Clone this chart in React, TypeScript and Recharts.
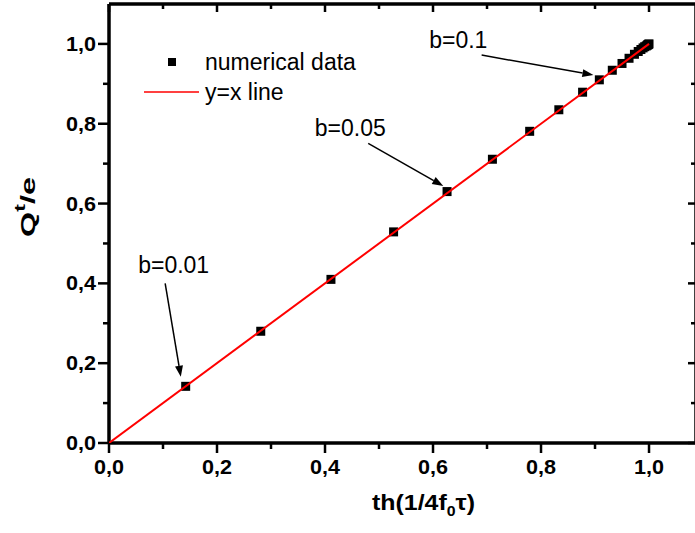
import React from "react";
import {
  ScatterChart,
  Scatter,
  XAxis,
  YAxis,
  ReferenceLine,
  ReferenceDot,
  Legend,
  Label,
} from "recharts";

const FONT = "Arial, 'Liberation Sans', sans-serif";

// axis ticks (major every 0.2 gets a label)
const xTicks = [0, 0.1, 0.2, 0.3, 0.4, 0.5, 0.6, 0.7, 0.8, 0.9, 1.0];
const yTicks = [0, 0.1, 0.2, 0.3, 0.4, 0.5, 0.6, 0.7, 0.8, 0.9, 1.0];

// numerical data: th(1/4 f0 tau) vs Q^t/e
const thValues = [
  0.142, 0.281, 0.411, 0.527, 0.626, 0.71, 0.779, 0.833, 0.877, 0.908, 0.932,
  0.95, 0.963, 0.973, 0.98, 0.985, 0.989, 0.992, 0.995, 0.997, 0.998, 0.999, 1.0,
];
const qValues = [
  0.142, 0.28, 0.41, 0.529, 0.63, 0.711, 0.781, 0.835, 0.879, 0.91, 0.934,
  0.951, 0.964, 0.974, 0.981, 0.986, 0.99, 0.993, 0.995, 0.997, 0.998, 0.999, 1.0,
];

// y = x reference line
const lineX = [0, 1];
const lineY = [0, 1];

// annotations (data units)
const annotLabels = ["b=0.01", "b=0.05", "b=0.1"];
const annotTextX = [0.054, 0.381, 0.593];
const annotTextY = [0.427, 0.768, 0.989];
const arrowFromX = [0.104, 0.48, 0.69];
const arrowFromY = [0.4, 0.751, 0.972];
const arrowToX = [0.133, 0.619, 0.897];
const arrowToY = [0.166, 0.644, 0.922];

const points = thValues.map((x, i) => ({ x, y: qValues[i] }));
const linePts = lineX.map((x, i) => ({ x, y: lineY[i] }));

const isMajor = (v: number) => Math.round(v * 10) % 2 === 0;
const fmt = (v: number) => v.toFixed(1).replace(".", ",");

const BottomTick = (props: any) => {
  const { x, y, payload } = props;
  const major = isMajor(payload.value);
  return (
    <g>
      <line x1={x} y1={y} x2={x} y2={y + (major ? 10 : 6)} stroke="#000" strokeWidth={2.5} />
      {major && (
        <text x={x} y={y + 31} textAnchor="middle" fontFamily={FONT} fontWeight="bold" fontSize={20} fill="#000"
          textLength={30} lengthAdjust="spacingAndGlyphs">
          {fmt(payload.value)}
        </text>
      )}
    </g>
  );
};

const LeftTick = (props: any) => {
  const { x, y, payload } = props;
  const major = isMajor(payload.value);
  return (
    <g>
      <line x1={x - (major ? 11 : 6)} y1={y} x2={x} y2={y} stroke="#000" strokeWidth={2.5} />
      {major && (
        <text x={x - 13} y={y + 7} textAnchor="end" fontFamily={FONT} fontWeight="bold" fontSize={20} fill="#000"
          textLength={30} lengthAdjust="spacingAndGlyphs">
          {fmt(payload.value)}
        </text>
      )}
    </g>
  );
};

const TopTick = (props: any) => {
  const { x, y, payload } = props;
  const major = isMajor(payload.value);
  return <line x1={x} y1={y} x2={x} y2={y + (major ? 8 : 5)} stroke="#000" strokeWidth={2.5} />;
};

const RightTick = (props: any) => {
  const { x, y, payload } = props;
  const major = isMajor(payload.value);
  return <line x1={x} y1={y} x2={x - (major ? 8 : 5)} y2={y} stroke="#000" strokeWidth={2.5} />;
};

const Square = (p: any) => <rect x={p.cx - 4.5} y={p.cy - 4.5} width={9} height={9} fill="#000" />;

const Arrow = (p: any) => {
  const { x1, y1, x2, y2 } = p;
  const ang = Math.atan2(y2 - y1, x2 - x1);
  const len = 11;
  const hw = 4;
  const bx = x2 - len * Math.cos(ang);
  const by = y2 - len * Math.sin(ang);
  const nx = -Math.sin(ang) * hw;
  const ny = Math.cos(ang) * hw;
  return (
    <g>
      <line x1={x1} y1={y1} x2={bx} y2={by} stroke="#000" strokeWidth={1.5} />
      <polygon points={`${x2},${y2} ${bx + nx},${by + ny} ${bx - nx},${by - ny}`} fill="#000" />
    </g>
  );
};

const LegendBox = (p: any) => {
  const entries = (p.payload || []).filter((e: any) => e.type !== "none");
  return (
    <svg width={400} height={120} style={{ display: "block" }}>
      {entries.map((e: any, i: number) =>
        i === 0 ? (
          <g key={i}>
            <rect x={168} y={58} width={8} height={8} fill="#000" />
            <text x={205} y={70} fontFamily={FONT} fontSize={23} fill="#000">
              {e.value}
            </text>
          </g>
        ) : (
          <g key={i}>
            <line x1={144} y1={92} x2={199} y2={92} stroke="#ff0000" strokeWidth={1.5} />
            <text x={205} y={100} fontFamily={FONT} fontSize={23} fill="#000">
              {e.value}
            </text>
          </g>
        )
      )}
    </svg>
  );
};

const XLabel = (p: any) => {
  const vb = p.viewBox;
  return (
    <text x={vb.x + vb.width / 2 + 21} y={vb.y + 67} textAnchor="middle" fontFamily={FONT} fontWeight="bold" fontSize={22} fill="#000"
      textLength={103} lengthAdjust="spacingAndGlyphs">
      th(1/4f
      <tspan dy={6} fontSize={14}>0</tspan>
      <tspan dy={-6}>τ)</tspan>
    </text>
  );
};

const YLabel = () => {
  const cx = 35;
  const cy = 207;
  return (
    <text x={cx} y={cy} transform={`rotate(-90, ${cx}, ${cy})`} textAnchor="middle" fontFamily={FONT} fontWeight="bold" fontSize={21} fill="#000"
      textLength={60} lengthAdjust="spacingAndGlyphs">
      Q<tspan dy={-10} fontSize={15}>t</tspan>
      <tspan dy={10}>/e</tspan>
    </text>
  );
};

export default function App() {
  return (
    <div style={{ position: "absolute", left: 0, top: 0, width: 695, height: 533, overflow: "hidden", background: "#fff" }}>
      <ScatterChart width={700} height={533} margin={{ top: 3, right: 3, bottom: 0, left: 0 }}>
        <XAxis
          xAxisId="b"
          type="number"
          dataKey="x"
          domain={[0, 1.087]}
          ticks={xTicks}
          interval={0}
          height={90}
          tickSize={0}
          tickMargin={0}
          tickLine={false}
          axisLine={{ stroke: "#000", strokeWidth: 3.5 }}
          tick={<BottomTick />}
          allowDataOverflow
        >
          <Label content={<XLabel />} />
        </XAxis>
        <XAxis
          xAxisId="t"
          orientation="top"
          type="number"
          dataKey="x"
          domain={[0, 1.087]}
          ticks={xTicks}
          interval={0}
          height={1}
          tickSize={0}
          tickMargin={0}
          tickLine={false}
          axisLine={{ stroke: "#000", strokeWidth: 3.5 }}
          tick={<TopTick />}
          allowDataOverflow
        />
        <YAxis
          yAxisId="l"
          type="number"
          dataKey="y"
          domain={[0, 1.1]}
          ticks={yTicks}
          interval={0}
          width={109}
          tickSize={0}
          tickMargin={0}
          tickLine={false}
          axisLine={{ stroke: "#000", strokeWidth: 3.5 }}
          tick={<LeftTick />}
          allowDataOverflow
        >
          <Label content={<YLabel />} />
        </YAxis>
        <YAxis
          yAxisId="r"
          orientation="right"
          type="number"
          dataKey="y"
          domain={[0, 1.1]}
          ticks={yTicks}
          interval={0}
          width={1}
          tickSize={0}
          tickMargin={0}
          tickLine={false}
          axisLine={{ stroke: "#000", strokeWidth: 3.5 }}
          tick={<RightTick />}
          allowDataOverflow
        />
        <Legend
          layout="vertical"
          align="center"
          verticalAlign="middle"
          wrapperStyle={{ left: 0, top: 0, width: 400, height: 120 }}
          content={<LegendBox />}
        />
        <Scatter
          name="numerical data"
          data={points}
          xAxisId="b"
          yAxisId="l"
          shape={<Square />}
          isAnimationActive={false}
        />
        <Scatter
          name="y=x line"
          data={linePts}
          xAxisId="b"
          yAxisId="l"
          line={{ stroke: "#ff0000", strokeWidth: 2 }}
          shape={() => <g />}
          legendType="line"
          isAnimationActive={false}
        />
        <Scatter
          name="frame"
          data={linePts}
          xAxisId="t"
          yAxisId="r"
          shape={() => <g />}
          legendType="none"
          isAnimationActive={false}
        />
        {annotLabels.map((t, i) => (
          <ReferenceLine
            key={"a" + i}
            xAxisId="b"
            yAxisId="l"
            segment={[
              { x: arrowFromX[i], y: arrowFromY[i] },
              { x: arrowToX[i], y: arrowToY[i] },
            ]}
            shape={(p: any) => <Arrow {...p} />}
          />
        ))}
        {annotLabels.map((t, i) => (
          <ReferenceDot
            key={"t" + i}
            xAxisId="b"
            yAxisId="l"
            x={annotTextX[i]}
            y={annotTextY[i]}
            r={0}
            shape={(p: any) => (
              <text x={p.cx} y={p.cy} fontFamily={FONT} fontSize={23} fill="#000">
                {t}
              </text>
            )}
          />
        ))}
      </ScatterChart>
    </div>
  );
}
